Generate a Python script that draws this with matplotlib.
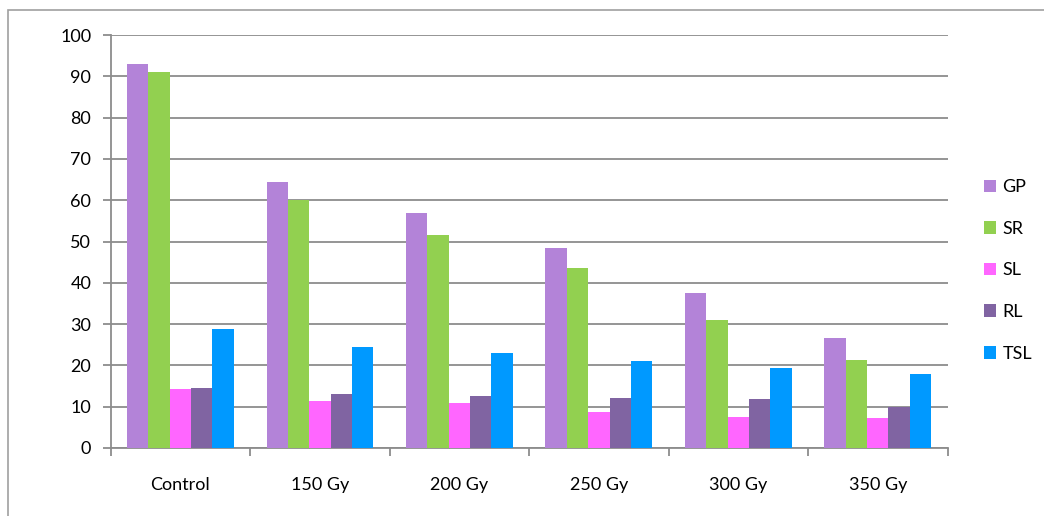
import numpy as np
import matplotlib
matplotlib.use("Agg")
import matplotlib.pyplot as plt
from matplotlib.patches import Rectangle

categories = ["Control", "150 Gy", "200 Gy", "250 Gy", "300 Gy", "350 Gy"]
series_names = ["GP", "SR", "SL", "RL", "TSL"]
GP = [93.0, 64.5, 56.9, 48.4, 37.5, 26.6]
SR = [91.0, 60.1, 51.6, 43.6, 31.0, 21.3]
SL = [14.2, 11.3, 11.0, 8.8, 7.6, 7.3]
RL = [14.6, 13.0, 12.5, 12.1, 11.8, 10.0]
TSL = [28.8, 24.4, 23.1, 21.0, 19.4, 17.8]
yticks = [0, 10, 20, 30, 40, 50, 60, 70, 80, 90, 100]
colors = ["#B383D8", "#92D050", "#FF66FF", "#8064A2", "#0099FF"]

plt.rcParams['font.family'] = ['Lato', 'DejaVu Sans']
fig = plt.figure(figsize=(10.44, 5.16), dpi=100)
ax = fig.add_axes([0.106, 0.1318, 0.8016, 0.8002])

data = [GP, SR, SL, RL, TSL]
x = np.arange(len(categories))
bw = 0.153
for i, (vals, name, c) in enumerate(zip(data, series_names, colors)):
    ax.bar(x + (i - 2) * bw, vals, width=bw, color=c, label=name, zorder=3)

ax.set_xlim(-0.5, len(categories) - 0.5)
ax.set_ylim(0, 100)
ax.set_yticks(yticks)
ax.yaxis.grid(True, color="#8c8c8c", linewidth=1.3, zorder=0)
ax.set_axisbelow(True)
for s in ["top", "right"]:
    ax.spines[s].set_visible(False)
ax.spines["left"].set_color("#8c8c8c")
ax.spines["bottom"].set_color("#8c8c8c")
ax.spines["left"].set_linewidth(1.3)
ax.spines["bottom"].set_linewidth(1.3)

ax.set_xticks(x)
ax.set_xticklabels(categories, fontsize=13)
ax.tick_params(axis="x", which="major", length=0, pad=21)
ax.set_xticks(np.arange(-0.5, len(categories)), minor=True)
ax.tick_params(axis="x", which="minor", length=6, color="#8c8c8c", width=1.3)
ax.tick_params(axis="y", length=6, color="#8c8c8c", width=1.3, labelsize=13, pad=8)

leg = ax.legend(loc="center left", bbox_to_anchor=(1.0, 0.43), frameon=False,
                fontsize=13, handlelength=0.7, handleheight=0.7,
                labelspacing=1.42, handletextpad=0.35, borderaxespad=1.6)

fig.patches.append(Rectangle((8 / 1044, -0.1), 1.2, 1 - 10 / 516 + 0.1,
                             transform=fig.transFigure, fill=False,
                             edgecolor="#a0a0a0", linewidth=1.2))

fig.savefig("out.png", dpi=100, facecolor="white")
